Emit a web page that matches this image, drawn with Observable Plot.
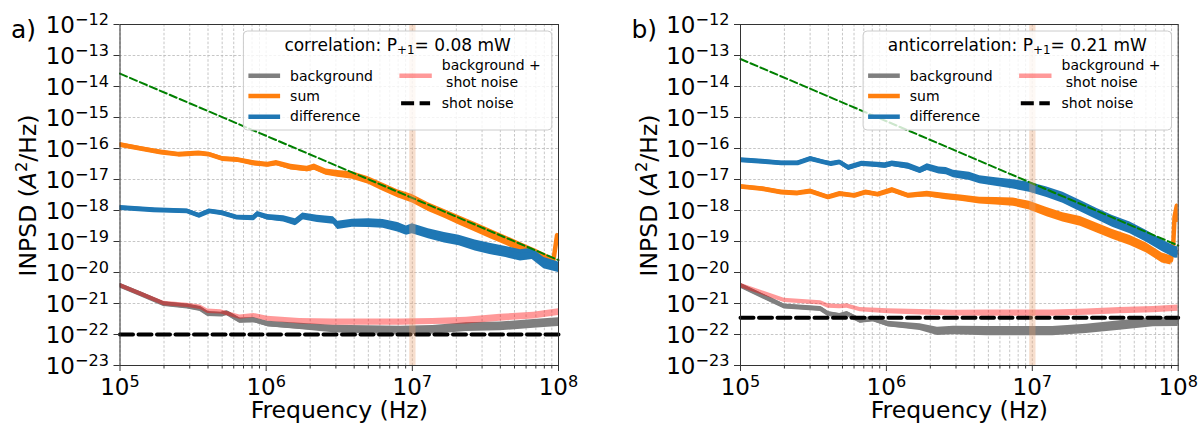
<!DOCTYPE html>
<html><head><meta charset="utf-8">
<script src="https://cdn.jsdelivr.net/npm/d3@7"></script>
<script src="https://cdn.jsdelivr.net/npm/@observablehq/plot@0.6"></script>
<style>
html,body{margin:0;padding:0;background:#fff;}
#wrap{position:relative;width:1202px;height:423px;overflow:hidden;}
#wrap svg{position:absolute;top:0;}
</style></head><body><div id="wrap"></div>
<script>
// ---------------- tick labels ----------------
const xTickExps = [5, 6, 7, 8];
const yTickExps = [-12, -13, -14, -15, -16, -17, -18, -19, -20, -21, -22, -23];
const minorMultipliers = [2, 3, 4, 5, 6, 7, 8, 9];

// ---------------- panel a) correlation ----------------
// frequencies as log10(Hz), values as log10(A^2/Hz), noise = visible half-thickness (decades)
const bgA_f = [5.00,5.14,5.30,5.46,5.55,5.60,5.69,5.73,5.82,5.915,6.01,6.23,6.46,6.69,6.92,7.14,7.37,7.60,7.83,8.00];
const bgA_v = [-20.42,-20.69,-21.01,-21.09,-21.17,-21.33,-21.35,-21.30,-21.55,-21.53,-21.66,-21.74,-21.82,-21.85,-21.87,-21.85,-21.76,-21.74,-21.66,-21.60];
const bgA_n = [0.07,0.07,0.07,0.07,0.07,0.07,0.07,0.07,0.08,0.08,0.09,0.10,0.12,0.13,0.14,0.14,0.14,0.14,0.14,0.14];

const bsA_f = [5.00,5.30,5.46,5.55,5.60,5.69,5.82,5.915,6.01,6.23,6.46,6.69,6.92,7.14,7.37,7.60,7.83,8.00];
const bsA_v = [-20.42,-21.00,-21.06,-21.12,-21.25,-21.27,-21.44,-21.39,-21.49,-21.57,-21.60,-21.60,-21.60,-21.58,-21.55,-21.46,-21.39,-21.28];
const bsA_n = [0.07,0.07,0.07,0.07,0.07,0.07,0.07,0.07,0.08,0.09,0.10,0.10,0.10,0.10,0.11,0.11,0.11,0.11];

const sumA_f = [5.00,5.15,5.28,5.40,5.54,5.61,5.70,5.80,5.91,6.01,6.07,6.17,6.28,6.33,6.41,6.49,6.59,6.70,6.80,6.90,7.00,7.11,7.22,7.32,7.43,7.53,7.64,7.74,7.85,7.93,7.965,7.99,8.00];
const sumA_v = [-15.88,-16.01,-16.12,-16.19,-16.15,-16.19,-16.33,-16.36,-16.47,-16.52,-16.47,-16.60,-16.66,-16.60,-16.76,-16.82,-16.87,-17.03,-17.25,-17.46,-17.62,-17.89,-18.11,-18.32,-18.54,-18.75,-18.97,-19.18,-19.40,-19.56,-19.62,-18.80,-19.05];
const sumA_n = [0.07,0.07,0.07,0.07,0.07,0.07,0.07,0.07,0.08,0.08,0.08,0.09,0.09,0.10,0.10,0.11,0.12,0.12,0.13,0.13,0.14,0.14,0.14,0.15,0.15,0.15,0.15,0.15,0.14,0.12,0.10,0.08,0.08];

const difA_f = [5.00,5.23,5.46,5.54,5.61,5.70,5.80,5.91,5.94,6.01,6.12,6.20,6.25,6.35,6.46,6.49,6.59,6.70,6.80,6.90,6.96,7.00,7.11,7.22,7.32,7.43,7.53,7.64,7.74,7.82,7.90,8.00];
const difA_v = [-17.91,-17.98,-18.02,-18.16,-18.02,-18.08,-18.22,-18.24,-18.11,-18.22,-18.27,-18.38,-18.19,-18.27,-18.32,-18.48,-18.41,-18.41,-18.43,-18.54,-18.65,-18.59,-18.75,-18.88,-18.97,-19.13,-19.24,-19.34,-19.45,-19.40,-19.70,-19.83];
const difA_n = [0.07,0.07,0.07,0.07,0.07,0.07,0.07,0.08,0.08,0.09,0.10,0.11,0.11,0.12,0.12,0.13,0.13,0.14,0.14,0.15,0.15,0.16,0.16,0.17,0.17,0.18,0.18,0.18,0.18,0.18,0.18,0.17];

const shotA = 1.0e-22;
const fitA = [2.6e-14, 2.5e-20];          // at 1e5 Hz and 1e8 Hz

// ---------------- panel b) anticorrelation ----------------
const bgB_f = [5.00,5.30,5.55,5.60,5.68,5.73,5.82,5.91,6.01,6.23,6.35,6.46,6.69,6.92,7.14,7.37,7.60,7.83,8.00];
const bgB_v = [-20.42,-21.09,-21.17,-21.33,-21.39,-21.33,-21.55,-21.50,-21.66,-21.76,-21.90,-21.87,-21.89,-21.89,-21.89,-21.82,-21.71,-21.60,-21.60];
const bgB_n = [0.07,0.07,0.07,0.07,0.07,0.07,0.08,0.08,0.09,0.11,0.13,0.14,0.15,0.15,0.15,0.15,0.15,0.15,0.14];

const bsB_f = [5.00,5.30,5.55,5.60,5.68,5.73,5.82,6.01,6.23,6.46,6.69,6.92,7.14,7.37,7.60,7.83,8.00];
const bsB_v = [-20.42,-20.90,-20.98,-21.08,-21.10,-21.08,-21.20,-21.25,-21.28,-21.31,-21.31,-21.31,-21.31,-21.28,-21.23,-21.20,-21.15];
const bsB_n = [0.07,0.07,0.07,0.07,0.07,0.07,0.07,0.08,0.09,0.09,0.10,0.10,0.10,0.10,0.10,0.10,0.10];

const sumB_f = [5.00,5.15,5.28,5.39,5.48,5.60,5.68,5.78,5.86,5.94,6.04,6.15,6.28,6.41,6.51,6.64,6.75,6.87,6.98,7.10,7.21,7.33,7.44,7.55,7.67,7.78,7.89,7.95,7.965,7.975,7.99,8.00];
const sumB_v = [-17.23,-17.30,-17.41,-17.44,-17.38,-17.57,-17.46,-17.52,-17.41,-17.48,-17.34,-17.52,-17.47,-17.55,-17.60,-17.68,-17.70,-17.73,-17.84,-18.05,-18.22,-18.35,-18.56,-18.77,-18.97,-19.20,-19.53,-19.61,-19.20,-18.20,-17.85,-18.30];
const sumB_n = [0.07,0.07,0.07,0.07,0.07,0.07,0.07,0.07,0.07,0.07,0.08,0.08,0.09,0.10,0.10,0.11,0.12,0.13,0.14,0.15,0.15,0.16,0.16,0.16,0.16,0.16,0.16,0.15,0.10,0.08,0.08,0.08];

const difB_f = [5.00,5.15,5.28,5.39,5.48,5.57,5.62,5.68,5.74,5.83,5.89,5.99,6.04,6.15,6.23,6.28,6.36,6.41,6.46,6.57,6.64,6.75,6.87,6.98,7.10,7.21,7.33,7.44,7.55,7.67,7.78,7.89,7.98,8.00];
const difB_v = [-16.37,-16.42,-16.47,-16.47,-16.33,-16.44,-16.49,-16.44,-16.62,-16.49,-16.51,-16.55,-16.49,-16.57,-16.71,-16.60,-16.71,-16.73,-16.82,-16.90,-17.01,-17.08,-17.16,-17.25,-17.41,-17.59,-17.86,-18.11,-18.35,-18.56,-18.83,-19.13,-19.35,-19.35];
const difB_n = [0.07,0.07,0.07,0.07,0.07,0.07,0.07,0.07,0.08,0.08,0.08,0.09,0.09,0.10,0.10,0.11,0.11,0.12,0.12,0.13,0.13,0.14,0.15,0.16,0.17,0.18,0.18,0.18,0.19,0.19,0.19,0.19,0.19,0.18];

const shotB = 3.5e-22;
const fitB = [7.7e-14, 7.4e-20];

// shaded band around 10 MHz
const bandHz = [9.6e6, 1.06e7];
const fitHz = [1e5, 1e8];

// ---------------- rendering ----------------
const FONT = "'DejaVu Sans', sans-serif";
const C = {bg: "#7f7f7f", sum: "#ff7f0e", dif: "#1f77b4", bs: "red", fit: "#008000"};
const xMajor = xTickExps.map(e => 10 ** e);
const xMinor = xTickExps.slice(0, -1).flatMap(e => minorMultipliers.map(m => m * 10 ** e));
const yMajor = yTickExps.map(e => 10 ** e);

function seriesData(fe, ve, ne) {
  return fe.map((f, i) => ({f: 10 ** f, v: 10 ** ve[i], lo: 10 ** (ve[i] - ne[i]), hi: 10 ** (ve[i] + ne[i])}));
}

function makePanel(p) {
  const bg = seriesData(p.bg[0], p.bg[1], p.bg[2]);
  const bs = seriesData(p.bs[0], p.bs[1], p.bs[2]);
  const sm = seriesData(p.sum[0], p.sum[1], p.sum[2]);
  const df = seriesData(p.dif[0], p.dif[1], p.dif[2]);
  const ref = fitHz.map((f, i) => ({f, shot: p.shot, fit: p.fit[i]}));
  const grid = {stroke: "#b8b8b8", strokeWidth: 0.8, strokeDasharray: "2.6,1.8"};
  const svg = Plot.plot({
    width: 601, height: 423,
    marginTop: 24, marginBottom: 58, marginLeft: p.ml, marginRight: p.mr,
    style: {fontFamily: FONT, background: "white", overflow: "visible", color: "black"},
    x: {type: "log", domain: [1e5, 1e8]},
    y: {type: "log", domain: [1e-23, 1e-12]},
    marks: [
      Plot.ruleX(xMajor.concat(xMinor), grid),
      Plot.ruleY(yMajor, grid),
      Plot.areaY(bg, {x: "f", y1: "lo", y2: "hi", fill: C.bg, clip: true}),
      Plot.line(bg, {x: "f", y: "v", stroke: C.bg, strokeWidth: 4.5, clip: true}),
      Plot.areaY(bs, {x: "f", y1: "lo", y2: "hi", fill: C.bs, fillOpacity: 0.4, clip: true}),
      Plot.areaY(sm, {x: "f", y1: "lo", y2: "hi", fill: C.sum, clip: true}),
      Plot.line(sm, {x: "f", y: "v", stroke: C.sum, strokeWidth: 4.5, clip: true}),
      Plot.areaY(df, {x: "f", y1: "lo", y2: "hi", fill: C.dif, clip: true}),
      Plot.line(df, {x: "f", y: "v", stroke: C.dif, strokeWidth: 4.5, clip: true}),
      Plot.line(ref, {x: "f", y: "shot", stroke: "black", strokeWidth: 4, strokeDasharray: "13,5.5"}),
      Plot.line(ref, {x: "f", y: "fit", stroke: C.fit, strokeWidth: 2, strokeDasharray: "7.5,3.3"}),
      Plot.rect([bandHz], {x1: d => d[0], x2: d => d[1], y1: () => 1e-23, y2: () => 1e-12, fill: "#e9a070", fillOpacity: 0.35}),
      Plot.frame({stroke: "#333", strokeWidth: 1}),
      Plot.axisX({ticks: xMajor, tickSize: 6, tickFormat: () => "", label: null, stroke: "#333"}),
      Plot.axisX({ticks: xMinor, tickSize: 3.5, tickFormat: () => "", label: null, stroke: "#333"}),
      Plot.axisY({ticks: yMajor, tickSize: 6, tickFormat: () => "", label: null, stroke: "#333"}),
      // tick labels 10^n
      Plot.text(xTickExps, {x: e => 10 ** e, frameAnchor: "bottom", text: () => "10", textAnchor: "end", dx: 9.5, dy: 29.3, lineAnchor: "bottom", fontSize: 23, fill: "black"}),
      Plot.text(xTickExps, {x: e => 10 ** e, frameAnchor: "bottom", text: e => String(e), textAnchor: "start", dx: 9.5, dy: 21, lineAnchor: "bottom", fontSize: 16.1, fill: "black"}),
      Plot.text(yTickExps, {y: e => 10 ** e, frameAnchor: "left", text: () => "10", textAnchor: "end", dx: -45, dy: 8.7, lineAnchor: "bottom", fontSize: 23, fill: "black"}),
      Plot.text(yTickExps, {y: e => 10 ** e, frameAnchor: "left", text: e => "\u2212" + (-e), textAnchor: "end", dx: -11, dy: 0, lineAnchor: "bottom", fontSize: 16.1, fill: "black"}),
      Plot.text(["Frequency (Hz)"], {frameAnchor: "bottom", dy: 52, lineAnchor: "bottom", fontSize: 23.5, fill: "black"}),
      Plot.text([p.tag], {frameAnchor: "top-left", dx: -109, dy: 13, textAnchor: "start", lineAnchor: "bottom", fontSize: 25, fill: "black"})
    ]
  });
  svg.style.left = p.left + "px";
  const s = d3.select(svg);

  // y-axis label with italic A and superscript 2
  const yl = s.append("text")
    .attr("transform", `translate(${p.ml - 83.5},195.5) rotate(-90)`)
    .attr("text-anchor", "middle").attr("font-size", 23.5).attr("font-family", FONT).attr("fill", "black");
  yl.append("tspan").text("INPSD (");
  yl.append("tspan").attr("font-style", "italic").text("A");
  yl.append("tspan").attr("font-size", 16.4).attr("dy", -9.5).text("2");
  yl.append("tspan").attr("dy", 9.5).text("/Hz)");

  // legend
  const plotRight = 601 - p.mr;
  const bl = plotRight - 314.6;
  const g = s.append("g").attr("font-family", FONT).attr("fill", "black");
  g.append("rect").attr("x", bl).attr("y", 31).attr("width", 308.4).attr("height", 99).attr("rx", 4)
    .attr("fill", "white").attr("fill-opacity", 0.8).attr("stroke", "#cccccc").attr("stroke-width", 1);
  const t = g.append("text").attr("x", bl + 154.2).attr("y", 51).attr("text-anchor", "middle").attr("font-size", 17);
  t.append("tspan").text(p.title[0]);
  t.append("tspan").attr("font-size", 11.9).attr("dy", 3).text(p.title[1]);
  t.append("tspan").attr("dy", -3).text(p.title[2]);
  const handle = (x1, x2, y, stroke, extra = {}) => {
    const l = g.append("line").attr("x1", x1).attr("x2", x2).attr("y1", y).attr("y2", y)
      .attr("stroke", stroke).attr("stroke-width", extra.w || 4.5);
    if (extra.op) l.attr("stroke-opacity", extra.op);
    if (extra.dash) l.attr("stroke-dasharray", extra.dash);
  };
  const label = (x, y, txt) => g.append("text").attr("x", x).attr("y", y)
    .attr("text-anchor", "start").attr("font-size", 14).text(txt);
  handle(bl + 5, bl + 36.7, 75.7, C.bg);
  handle(bl + 5, bl + 36.7, 96, C.sum);
  handle(bl + 5, bl + 36.7, 116.7, C.dif);
  label(bl + 46.7, 80.5, "background");
  label(bl + 46.7, 101, "sum");
  label(bl + 46.7, 121.3, "difference");
  handle(bl + 156, bl + 188.4, 75.7, C.bs, {op: 0.4});
  label(bl + 198.4, 70.3, "background +");
  label(bl + 202.7, 86.7, "shot noise");
  handle(bl + 157.7, bl + 186.7, 103.3, "black", {w: 4, dash: "13,5.5"});
  label(bl + 198.4, 107.7, "shot noise");
  return svg;
}

const wrap = document.getElementById("wrap");
wrap.appendChild(makePanel({
  left: 0, ml: 119.5, mr: 43, tag: "a)",
  title: ["correlation: P", "+1", "= 0.08 mW"],
  bg: [bgA_f, bgA_v, bgA_n], bs: [bsA_f, bsA_v, bsA_n],
  sum: [sumA_f, sumA_v, sumA_n], dif: [difA_f, difA_v, difA_n],
  shot: shotA, fit: fitA
}));
wrap.appendChild(makePanel({
  left: 601, ml: 139, mr: 24.3, tag: "b)",
  title: ["anticorrelation: P", "+1", "= 0.21 mW"],
  bg: [bgB_f, bgB_v, bgB_n], bs: [bsB_f, bsB_v, bsB_n],
  sum: [sumB_f, sumB_v, sumB_n], dif: [difB_f, difB_v, difB_n],
  shot: shotB, fit: fitB
}));
</script></body></html>
